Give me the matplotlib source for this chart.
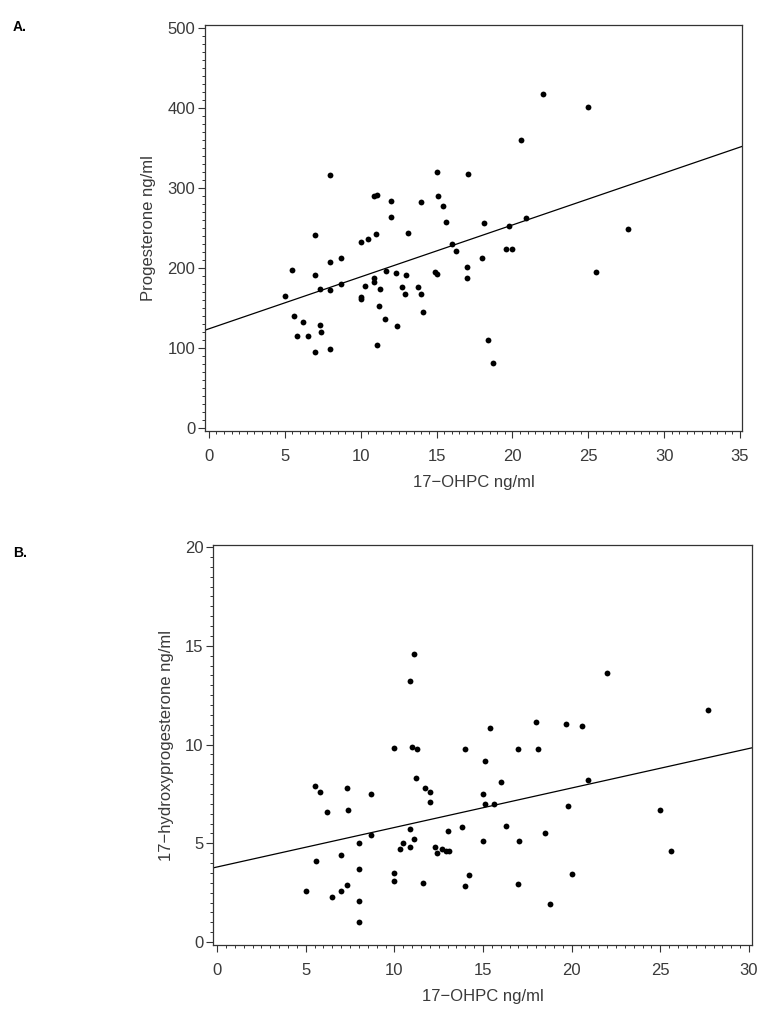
import matplotlib.pyplot as plt
from matplotlib.ticker import MultipleLocator
import numpy as np

plt.rcParams['font.family'] = ['Liberation Sans', 'DejaVu Sans']

# -------------------------
# Panel A: 17-OHPC vs progesterone
# -------------------------
ohpc_a = [5.0, 5.5, 5.6, 6.2, 5.8, 6.5, 7.0, 7.3, 7.3, 7.4, 7.0, 8.0, 8.0, 8.0,
          8.7, 8.7, 10.0, 10.5, 10.0, 10.0, 10.3, 10.9, 10.9, 11.3, 11.2, 11.6,
          11.05, 11.7, 12.3, 12.4, 12.7, 8.0, 7.0, 11.0, 10.85, 11.1, 12.0, 12.0,
          15.0, 17.1, 14.0, 15.1, 15.4, 15.6, 13.1, 18.1, 19.8, 20.9, 16.0, 16.3,
          19.6, 20.0, 18.0, 27.6, 17.0, 17.0, 13.0, 13.8, 14.9, 15.05, 12.9, 14.0,
          25.5, 22.0, 25.0, 20.6, 14.1, 18.4, 18.7]
prog_a = [165, 198, 140, 132, 115, 115, 191, 174, 129, 120, 95, 208, 172, 99,
          212, 180, 232, 236, 164, 161, 178, 188, 182, 174, 153, 136,
          104, 196, 194, 128, 176, 316, 241, 242, 290, 291, 284, 264,
          320, 317, 282, 290, 277, 257, 244, 256, 253, 263, 230, 221,
          224, 224, 212, 249, 201, 187, 191, 176, 195, 193, 167, 167,
          195, 417, 401, 360, 145, 110, 81]
fit_a = (124.0, 6.49)  # intercept, slope

# -------------------------
# Panel B: 17-OHPC vs 17-hydroxyprogesterone
# -------------------------
ohpc_b = [11.1, 10.9, 10.0, 11.0, 11.3, 5.5, 5.8, 7.3, 8.7, 6.2, 7.4, 11.2, 8.7,
          8.0, 5.6, 7.0, 8.0, 5.0, 6.5, 7.0, 7.3, 8.0, 8.0, 10.0, 10.0, 10.3,
          10.5, 10.9, 11.1, 10.9, 22.0, 15.4, 18.0, 19.7, 20.6, 27.7, 14.0, 17.0,
          18.1, 15.1, 16.0, 20.9, 11.7, 12.0, 12.0, 15.0, 15.1, 15.6, 19.8, 25.0,
          16.3, 13.8, 13.0, 15.0, 17.05, 18.5, 12.3, 12.4, 12.7, 12.9, 13.1, 25.6,
          14.2, 11.6, 14.0, 17.0, 20.0, 18.8]
hydroxy_b = [14.6, 13.2, 9.8, 9.85, 9.77, 7.9, 7.6, 7.8, 7.5, 6.6, 6.7, 8.3, 5.4,
             5.0, 4.1, 4.4, 3.7, 2.6, 2.3, 2.6, 2.9, 2.1, 1.0, 3.5, 3.1, 4.7,
             5.0, 5.7, 5.2, 4.8, 13.6, 10.85, 11.15, 11.05, 10.95, 11.75, 9.77, 9.77,
             9.77, 9.16, 8.1, 8.2, 7.8, 7.6, 7.1, 7.5, 7.0, 7.0, 6.9, 6.7,
             5.9, 5.8, 5.6, 5.1, 5.1, 5.5, 4.8, 4.5, 4.7, 4.6, 4.6, 4.6,
             3.4, 3.0, 2.85, 2.95, 3.45, 1.95]
fit_b = (3.8, 0.2)

text_col = "#3a3a3a"
fig = plt.figure(figsize=(7.72, 10.18), dpi=100)

panels = [
    dict(pos=[0.2655, 0.5766, 0.6956, 0.3988], x=ohpc_a, y=prog_a, fit=fit_a,
         xlim=(-0.26, 35.13), ylim=(-3.75, 503.75), xmaj=5, xmin=0.5,
         ymaj=100, ymin=10, ylabel="Progesterone ng/ml", tag="A.", tag_y=0.980),
    dict(pos=[0.2759, 0.0717, 0.6982, 0.3929], x=ohpc_b, y=hydroxy_b, fit=fit_b,
         xlim=(-0.23, 30.17), ylim=(-0.15, 20.1), xmaj=5, xmin=0.5,
         ymaj=5, ymin=0.5, ylabel="17\u2212hydroxyprogesterone ng/ml", tag="B.", tag_y=0.464),
]

for p in panels:
    ax = fig.add_axes(p["pos"])
    ax.plot(p["x"], p["y"], "o", color="black", markersize=4.2, markeredgewidth=0)
    ax.set_xlim(p["xlim"])
    ax.set_ylim(p["ylim"])
    xs = np.array(ax.get_xlim())
    ax.plot(xs, p["fit"][0] + p["fit"][1] * xs, color="black", linewidth=0.9)

    ax.xaxis.set_major_locator(MultipleLocator(p["xmaj"]))
    ax.xaxis.set_minor_locator(MultipleLocator(p["xmin"]))
    ax.yaxis.set_major_locator(MultipleLocator(p["ymaj"]))
    ax.yaxis.set_minor_locator(MultipleLocator(p["ymin"]))
    ax.tick_params(which="major", length=5, width=0.8, color="#333333",
                   labelsize=12, labelcolor=text_col)
    ax.tick_params(which="minor", length=2.5, width=0.7, color="#333333")
    ax.tick_params(axis="x", which="major", pad=8)
    ax.tick_params(axis="y", which="major", pad=2)
    for s in ax.spines.values():
        s.set_color("#333333")
        s.set_linewidth(0.9)

    ax.set_xlabel("17\u2212OHPC ng/ml", fontsize=12, color=text_col, labelpad=8)
    ax.set_ylabel(p["ylabel"], fontsize=12, color=text_col, labelpad=8)
    fig.text(0.017, p["tag_y"], p["tag"], fontsize=10, fontweight="bold",
             va="top", ha="left")

fig.savefig("out.png", dpi=100)
